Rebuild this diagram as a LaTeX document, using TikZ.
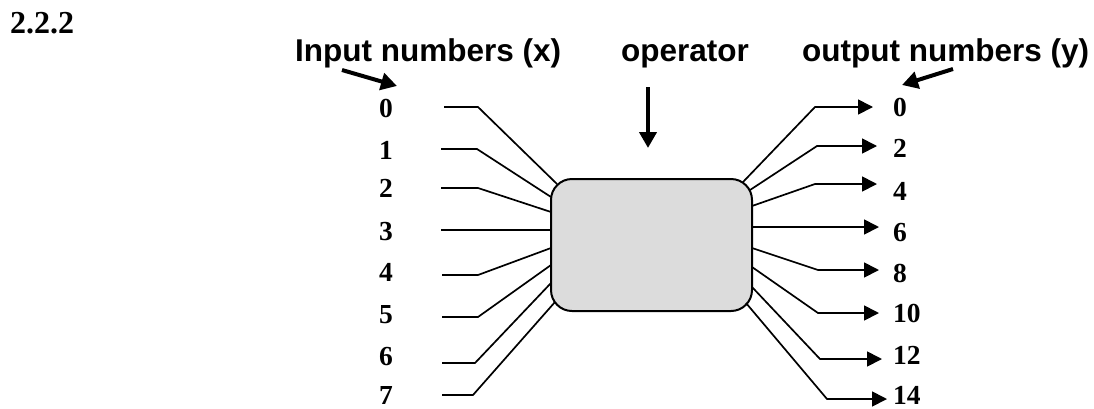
\documentclass[tikz,border=0pt]{standalone}
\usepackage{fontspec}
\newfontfamily\hdfont{Liberation Sans}
\newfontfamily\nmfont{Liberation Serif}
\usetikzlibrary{arrows.meta}
\definecolor{boxgray}{HTML}{DCDCDC}
\begin{document}
\begin{tikzpicture}[x=1pt,y=-1pt,
  wire/.style={line width=1.7pt},
  outwire/.style={line width=1.7pt,-{Triangle[length=15pt,width=15pt]}},
  bigarrow/.style={line width=4pt,-{Triangle[length=16pt,width=17pt]}},
  num/.style={font=\nmfont\bfseries\fontsize{27.5}{28}\selectfont, inner sep=0pt, text depth=0pt},
  head/.style={font=\hdfont\bfseries\fontsize{31.5}{32}\selectfont, inner sep=0pt, anchor=base west},
  opbox/.style={draw, line width=2pt, fill=boxgray, rounded corners=21pt,
    minimum width=201pt, minimum height=132pt, inner sep=0pt}
]
\useasboundingbox (0,0) rectangle (1094,408);
% section number
\node[font=\nmfont\bfseries\fontsize{32}{32}\selectfont, inner sep=0pt, anchor=base west] (sec) at (10,33) {2.2.2};
% headings
\node[head] (hin) at (295,61.5) {Input numbers (x)};
\node[head] (hop) at (621,61.5) {operator};
\node[head] (hout) at (802,61.5) {output numbers (y)};
% operator box
\node[opbox] (op) at (651.5,245) {};
% input labels
\foreach \i/\b in {0/117,1/159,2/197,3/240,4/281,5/323,6/365,7/404}
  {\node[num, anchor=base] (in\i) at (386,\b) {\i};}
% output labels
\foreach \v/\b in {0/116,2/157,4/200,6/241,8/282,10/322,12/364,14/404}
  {\node[num, anchor=base west] (out\v) at (893,\b) {\v};}
% input wires
\foreach \i/\sx/\bx/\y/\ex/\ey in {0/444/478/107/557/184, 1/441/477/149/551/197,
    2/441/478/188/551/212, 3/441/478/230/551/230, 4/442/478/275/551/248,
    5/442/478/317/551/265, 6/442/475/363/551/283, 7/442/473/395/555/302}
{
  \coordinate (ia\i) at (\sx,\y);
  \coordinate (ib\i) at (\bx,\y);
  \coordinate (ic\i) at (\ex,\ey);
  \draw[wire] (ia\i) -- (ib\i) -- (ic\i);
}
% output wires
\foreach \v/\sx/\sy/\bx/\y/\tx in {0/743/182/815/107/873, 2/750/190/817/146/877,
    4/752/206/815/184/877, 6/752/227/815/227/879, 8/752/248/818/270/879,
    10/752/267/818/313/879, 12/752/287/820/359/882, 14/746/303/827/399/887}
{
  \coordinate (oa\v) at (\sx,\sy);
  \coordinate (ob\v) at (\bx,\y);
  \coordinate (oc\v) at (\tx,\y);
  \draw[outwire] (oa\v) -- (ob\v) -- (oc\v);
}
% pointer arrows
\coordinate (pina) at (342,70); \coordinate (pinb) at (397,86);
\coordinate (popa) at (648,87); \coordinate (popb) at (648,148);
\coordinate (pouta) at (953,69); \coordinate (poutb) at (902,85);
\draw[bigarrow] (pina) -- (pinb);
\draw[bigarrow] (popa) -- (popb);
\draw[bigarrow] (pouta) -- (poutb);
\end{tikzpicture}
\end{document}
